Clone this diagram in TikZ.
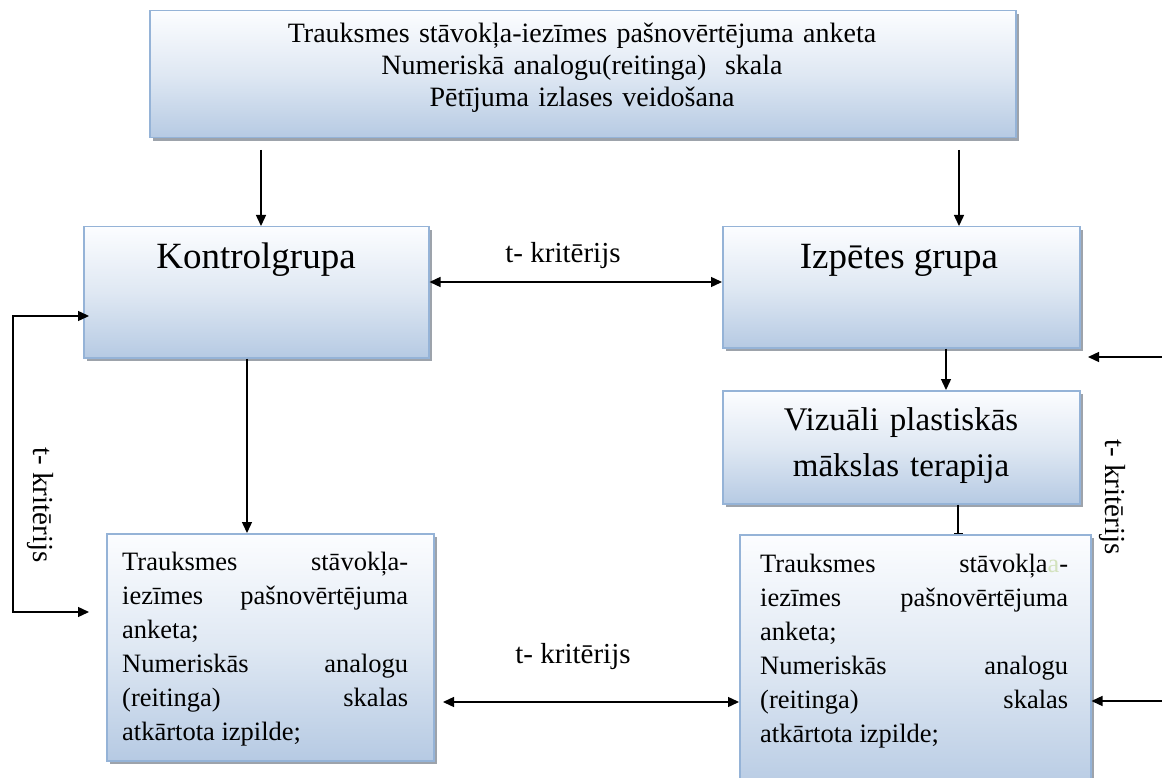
\documentclass[tikz,border=0pt]{standalone}
\usepackage{fontspec}
\setmainfont{Liberation Serif}
\usetikzlibrary{arrows.meta,shadows}
\definecolor{bord}{HTML}{95B3D7}
\definecolor{shtop}{HTML}{FCFDFF}
\definecolor{shmid}{HTML}{DFE8F3}
\definecolor{shbot}{HTML}{B6CAE3}
\definecolor{shad}{HTML}{9DA3AB}
\definecolor{faint}{HTML}{D3E2BE}
\newcommand\jline[1]{\hbox to\hsize{#1}}
\begin{document}
\begin{tikzpicture}[x=1pt,y=-1pt,
  box/.style={draw=bord,line width=1.5pt,top color=shtop,bottom color=shbot,middle color=shmid,
    drop shadow={shadow xshift=3pt,shadow yshift=-3pt,fill=shad,opacity=1},
    anchor=north west,inner sep=0pt},
  conn/.style={line width=1.4pt,-{Triangle[length=11pt,width=10pt]}},
  dconn/.style={line width=1.4pt,{Triangle[length=11pt,width=10pt]}-{Triangle[length=11pt,width=10pt]}},
  big/.style={font=\fontsize{37}{44}\selectfont,inner sep=0pt},
  lab/.style={font=\fontsize{29}{34}\selectfont,inner sep=0pt},
  body/.style={font=\fontsize{26.5}{34}\selectfont,inner sep=0pt,anchor=base west}]
\fill[white] (0,0) rectangle (1162,778);
\useasboundingbox (0,0) rectangle (1162,778);

% boxes
\node[box,minimum width=866pt,minimum height=127pt] (top) at (149,10) {};
\node[box,minimum width=345pt,minimum height=131pt] (ctrl) at (83,226) {};
\node[box,minimum width=357pt,minimum height=121pt] (izp) at (722,226) {};
\node[box,minimum width=357pt,minimum height=113pt] (viz) at (722,390) {};
\node[box,minimum width=327pt,minimum height=227pt] (bl) at (106,533) {};
\node[box,minimum width=351pt,minimum height=260pt] (br) at (739,534) {};

% texts
\node[font=\fontsize{28}{32}\selectfont,text width=840pt,align=center,anchor=base,inner sep=0pt] (toptxt) at (582,43)
  {Trauksmes stāvokļa-iezīmes pašnovērtējuma anketa\\Numeriskā analogu(reitinga)\ \ skala\\Pētījuma izlases veidošana};
\node[big,anchor=base] (ctrltxt) at (256,269) {Kontrolgrupa};
\node[big,anchor=base] (izptxt) at (899,269) {Izpētes grupa};
\node[font=\fontsize{33}{46}\selectfont,text width=350pt,align=center,anchor=base,inner sep=0pt] (viztxt) at (901,430)
  {Vizuāli plastiskās\\mākslas terapija};
\node[body] (bltxt) at (122,570) {\parbox[t]{286pt}{%
  \jline{Trauksmes\hfill stāvokļa-}%
  \jline{iezīmes\hfill pašnovērtējuma}%
  \jline{anketa;\hfil}%
  \jline{Numeriskās\hfill analogu}%
  \jline{(reitinga)\hfill skalas}%
  \jline{atkārtota izpilde;\hfil}}};
\node[body] (brtxt) at (760,572) {\parbox[t]{308pt}{%
  \jline{Trauksmes\hfill stāvokļa{\color{faint}a}-}%
  \jline{iezīmes\hfill pašnovērtējuma}%
  \jline{anketa;\hfil}%
  \jline{Numeriskās\hfill analogu}%
  \jline{(reitinga)\hfill skalas}%
  \jline{atkārtota izpilde;\hfil}}};

% labels
\node[lab,anchor=base] (lmid) at (563,262) {t- kritērijs};
\node[lab,anchor=base] (lbot) at (573,663) {t- kritērijs};
\node[lab,rotate=-90] (lleft) at (40,505) {t- kritērijs};
\node[lab,rotate=-90] (lright) at (1112,497) {t- kritērijs};

% coordinates
\coordinate (a1) at (261,150);
\coordinate (a2) at (959,150);
\coordinate (m1) at (575,282);
\coordinate (xv) at (946,0);
\coordinate (xw) at (958,0);
\coordinate (xc) at (247,0);
\coordinate (L1) at (89,316);
\coordinate (L2) at (89,612);
\coordinate (Lx) at (13,0);
\coordinate (B1) at (443,702);
\coordinate (R1) at (1162,357);
\coordinate (R1e) at (1088,357);
\coordinate (R2) at (1162,701);

% connectors
\draw[conn] (a1) -- (a1 |- ctrl.north);
\draw[conn] (a2) -- (a2 |- izp.north);
\draw[dconn] (ctrl.east |- m1) -- (izp.west |- m1);
\draw[conn] (xv |- izp.south) -- (xv |- viz.north);
\draw[line width=1.4pt,-{Bar[width=9pt,line width=0.8pt]}] (xw |- viz.south) -- (xw |- br.north);
\draw[conn] (xc |- ctrl.south) -- (xc |- bl.north);
\draw[dconn] (L1) -- (Lx |- L1) -- (Lx |- L2) -- (L2);
\draw[dconn] (B1) -- (br.west |- B1);
\draw[conn] (R1) -- (R1e);
\draw[conn] (R2) -- (br.east |- R2);
\end{tikzpicture}
\end{document}
